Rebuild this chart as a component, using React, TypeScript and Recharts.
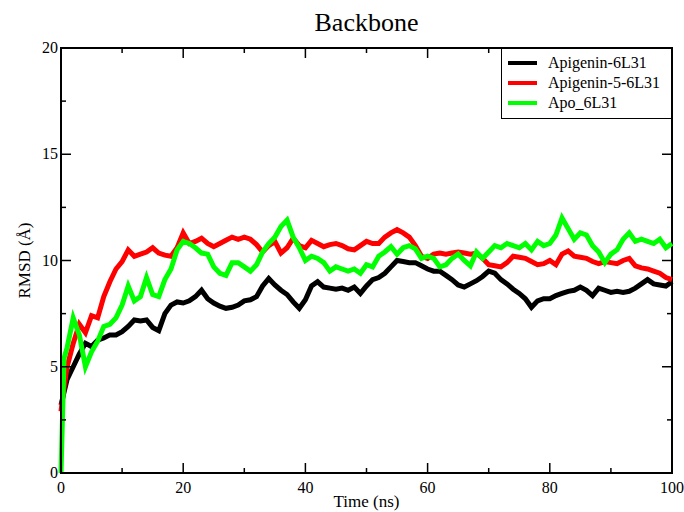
import { LineChart, Line, XAxis, YAxis, ReferenceArea, Legend, Label } from 'recharts';

const TIME = [
  0, 0.5, 1, 2, 3, 4, 5, 6, 7, 8, 9, 10, 11, 12, 13, 14, 15, 16, 17, 18, 19, 20,
  21, 22, 23, 24, 25, 26, 27, 28, 29, 30, 31, 32, 33, 34, 35, 36, 37, 38, 39, 40,
  41, 42, 43, 44, 45, 46, 47, 48, 49, 50, 51, 52, 53, 54, 55, 56, 57, 58, 59, 60,
  61, 62, 63, 64, 65, 66, 67, 68, 69, 70, 71, 72, 73, 74, 75, 76, 77, 78, 79, 80,
  81, 82, 83, 84, 85, 86, 87, 88, 89, 90, 91, 92, 93, 94, 95, 96, 97, 98, 99, 100
];

// Apigenin-6L31
const APIGENIN = [
  3.2, 3.8, 4.4, 5.0, 5.6, 6.1, 5.95, 6.25, 6.35, 6.5, 6.5, 6.65, 6.9, 7.2, 7.15, 7.2, 6.85, 6.7, 7.5, 7.9, 8.05, 8.0,
  8.1, 8.3, 8.6, 8.2, 8.0, 7.85, 7.75, 7.8, 7.9, 8.1, 8.15, 8.3, 8.8, 9.15, 8.85, 8.6, 8.4, 8.05, 7.75, 8.15,
  8.8, 9.0, 8.75, 8.7, 8.65, 8.7, 8.6, 8.75, 8.45, 8.8, 9.1, 9.2, 9.4, 9.7, 10.0, 9.95, 9.9, 9.9, 9.75, 9.6,
  9.5, 9.5, 9.3, 9.1, 8.85, 8.75, 8.9, 9.05, 9.25, 9.5, 9.4, 9.1, 8.9, 8.65, 8.45, 8.2, 7.8, 8.1, 8.2, 8.2,
  8.35, 8.45, 8.55, 8.6, 8.75, 8.6, 8.35, 8.7, 8.6, 8.5, 8.55, 8.5, 8.55, 8.7, 8.9, 9.1, 8.9, 8.85, 8.8, 9.0
];

// Apigenin-5-6L31
const APIGENIN5 = [
  2.9, 4.0, 5.0, 6.1, 7.0, 6.6, 7.4, 7.3, 8.3, 9.0, 9.6, 9.95, 10.5, 10.2, 10.3, 10.4, 10.6, 10.35, 10.25, 10.2, 10.6, 11.3,
  10.8, 10.9, 11.05, 10.8, 10.65, 10.8, 10.95, 11.1, 11.0, 11.1, 11.0, 10.75, 10.4, 10.7, 10.9, 10.35, 10.6, 11.05, 10.7, 10.6,
  10.95, 10.8, 10.65, 10.75, 10.8, 10.7, 10.55, 10.5, 10.7, 10.9, 10.8, 10.8, 11.1, 11.3, 11.45, 11.3, 11.1, 10.7, 10.2, 10.1,
  10.3, 10.35, 10.3, 10.35, 10.4, 10.35, 10.3, 10.35, 10.1, 9.8, 9.75, 9.7, 9.9, 10.2, 10.15, 10.1, 9.95, 9.8, 9.85, 10.0,
  9.8, 10.3, 10.45, 10.2, 10.15, 10.1, 9.95, 9.85, 9.95, 9.9, 9.85, 10.0, 10.1, 9.75, 9.65, 9.6, 9.5, 9.4, 9.2, 9.1
];

// Apo_6L31
const APO = [
  0.0, 5.4, 5.9, 7.3, 6.5, 5.0, 5.7, 6.2, 6.9, 7.0, 7.3, 7.9, 8.8, 8.1, 8.3, 9.2, 8.4, 8.3, 9.1, 9.6, 10.5, 10.9,
  10.8, 10.6, 10.35, 10.3, 9.7, 9.4, 9.3, 9.9, 9.9, 9.7, 9.5, 9.8, 10.4, 10.8, 11.1, 11.6, 11.9, 11.1, 10.6, 10.0,
  10.2, 10.1, 9.9, 9.5, 9.7, 9.6, 9.5, 9.6, 9.4, 9.8, 9.7, 10.2, 10.4, 10.65, 10.3, 10.6, 10.7, 10.55, 10.1, 10.2,
  10.1, 9.7, 9.8, 10.1, 10.3, 10.0, 9.75, 10.4, 10.1, 10.4, 10.7, 10.6, 10.8, 10.7, 10.6, 10.8, 10.5, 10.9, 10.7, 10.8,
  11.2, 12.0, 11.5, 11.0, 11.3, 11.2, 10.7, 10.4, 9.9, 10.3, 10.5, 11.0, 11.3, 10.9, 11.0, 10.9, 10.8, 11.0, 10.6, 10.8
];

const SERIES_NAMES = ['Apigenin-6L31', 'Apigenin-5-6L31', 'Apo_6L31'];
const X_TICKS = [0, 10, 20, 30, 40, 50, 60, 70, 80, 90, 100];
const Y_TICKS = [0, 2.5, 5, 7.5, 10, 12.5, 15, 17.5, 20];

const data = TIME.map((t, i) => ({
  t,
  a: APIGENIN[i],
  b: APIGENIN5[i],
  c: APO[i]
}));

const FONT = '"Liberation Serif", "Times New Roman", serif';
const PLOT_W = 611;
const PLOT_H = 425;

const XTick = (props: any) => {
  const { x, y, payload } = props;
  const v = payload.value;
  const major = v % 20 === 0;
  const len = major ? 10 : 5;
  return (
    <g>
      <line x1={x} y1={y} x2={x} y2={y - len} stroke="#000" strokeWidth={1.5} />
      <line x1={x} y1={y - PLOT_H} x2={x} y2={y - PLOT_H + len} stroke="#000" strokeWidth={1.5} />
      {major && (
        <text x={x} y={y + 20} textAnchor="middle" fontFamily={FONT} fontSize={16} fill="#000">
          {v}
        </text>
      )}
    </g>
  );
};

const YTick = (props: any) => {
  const { x, y, payload } = props;
  const v = payload.value;
  const major = v % 5 === 0;
  const len = major ? 10 : 5;
  return (
    <g>
      <line x1={x} y1={y} x2={x + len} y2={y} stroke="#000" strokeWidth={1.5} />
      <line x1={x + PLOT_W} y1={y} x2={x + PLOT_W - len} y2={y} stroke="#000" strokeWidth={1.5} />
      {major && (
        <text x={x - 3} y={y + 5} textAnchor="end" fontFamily={FONT} fontSize={16} fill="#000">
          {v}
        </text>
      )}
    </g>
  );
};

const LegendBox = (props: any) => {
  const items = [...(props.payload || [])].sort(
    (p: any, q: any) => SERIES_NAMES.indexOf(p.value) - SERIES_NAMES.indexOf(q.value)
  );
  return (
    <div
      style={{
        width: 171,
        height: 71,
        border: '1px solid #000',
        background: '#fff',
        fontFamily: FONT,
        fontSize: 16,
        boxSizing: 'border-box',
        paddingTop: 4
      }}
    >
      {items.map((p: any) => (
        <div key={p.value} style={{ display: 'flex', alignItems: 'center', height: 20 }}>
          <span style={{ display: 'inline-block', width: 29, height: 4, background: p.color, marginLeft: 6, marginRight: 11 }} />
          <span>{p.value}</span>
        </div>
      ))}
    </div>
  );
};

export default function App() {
  return (
    <div style={{ position: 'absolute', left: 0, top: 0, width: 684, height: 512, background: '#fff' }}>
      <div
        style={{
          position: 'absolute',
          left: 61,
          width: 611,
          top: 7,
          textAlign: 'center',
          fontFamily: FONT,
          fontSize: 26,
          lineHeight: '32px'
        }}
      >
        Backbone
      </div>
      <LineChart width={684} height={512} data={data} margin={{ top: 48, right: 12, bottom: 0, left: 0 }}>
        <XAxis
          dataKey="t"
          type="number"
          domain={[0, 100]}
          ticks={X_TICKS}
          interval={0}
          height={39}
          tickSize={0}
          tickMargin={0}
          tick={<XTick />}
          axisLine={{ stroke: '#000', strokeWidth: 2 }}
        >
          <Label value="Time (ns)" position="insideBottom" offset={5} fontFamily={FONT} fontSize={17} fill="#000" />
        </XAxis>
        <YAxis
          type="number"
          domain={[0, 20]}
          ticks={Y_TICKS}
          interval={0}
          width={61}
          tickSize={0}
          tickMargin={0}
          tick={<YTick />}
          axisLine={{ stroke: '#000', strokeWidth: 2 }}
        >
          <Label value="RMSD (Å)" angle={-90} position="center" dx={-7} fontFamily={FONT} fontSize={17} fill="#000" />
        </YAxis>
        <ReferenceArea x1={0} x2={100} y1={0} y2={20} fill="none" stroke="#000" strokeWidth={2} />
        <Line dataKey="a" name="Apigenin-6L31" stroke="#000000" strokeWidth={5} dot={false} isAnimationActive={false} />
        <Line dataKey="b" name="Apigenin-5-6L31" stroke="#ff0000" strokeWidth={5} dot={false} isAnimationActive={false} />
        <Line dataKey="c" name="Apo_6L31" stroke="#00ff00" strokeWidth={5} dot={false} isAnimationActive={false} />
        <Legend
          content={<LegendBox />}
          layout="vertical"
          align="center"
          verticalAlign="middle"
          wrapperStyle={{ position: 'absolute', left: 501, top: 48, width: 171 }}
        />
      </LineChart>
    </div>
  );
}
